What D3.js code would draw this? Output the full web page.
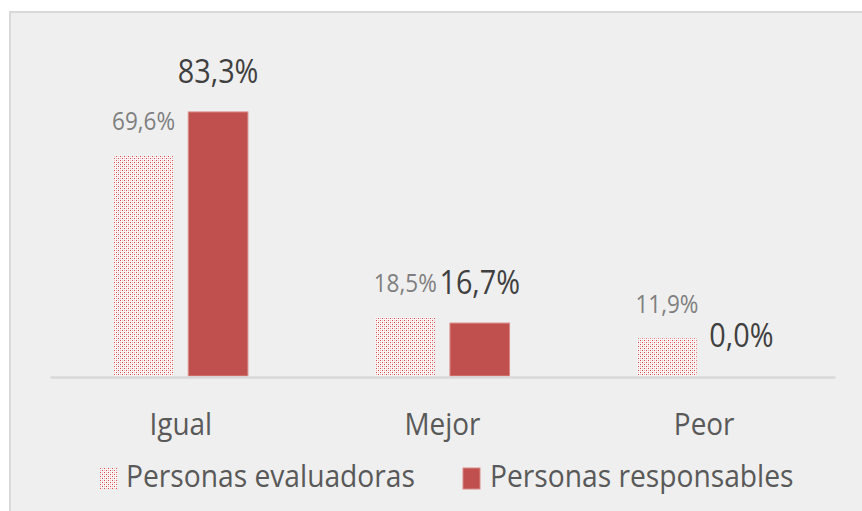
<!DOCTYPE html>
<html><head><meta charset="utf-8">
<script src="https://cdn.jsdelivr.net/npm/d3@7"></script>
<style>
html,body{margin:0;padding:0;background:#fff;}
svg{display:block;}
text{font-family:"Open Sans",sans-serif;}
</style></head>
<body>
<svg id="chart" width="862" height="511"></svg>
<script>
const categories = ["Igual", "Mejor", "Peor"];
const seriesNames = ["Personas evaluadoras", "Personas responsables"];
const evaluadoras = [69.6, 18.5, 11.9];
const responsables = [83.3, 16.7, 0.0];
const valueLabels = {
  "Personas evaluadoras": ["69,6%", "18,5%", "11,9%"],
  "Personas responsables": ["83,3%", "16,7%", "0,0%"]
};

const svg = d3.select("#chart");
const W = 862, H = 511;
const SX = 0.9;

const defs = svg.append("defs");
const pat = defs.append("pattern").attr("id","dots").attr("patternUnits","userSpaceOnUse")
  .attr("width",4).attr("height",4);
pat.append("rect").attr("width",4).attr("height",4).attr("fill","#fdf6f6");
pat.append("rect").attr("x",0).attr("y",0).attr("width",1).attr("height",1).attr("fill","#d9494a");
pat.append("rect").attr("x",2).attr("y",2).attr("width",1).attr("height",1).attr("fill","#d9494a");
pat.append("rect").attr("x",0).attr("y",2).attr("width",1).attr("height",1).attr("fill","#eeb0b0");
pat.append("rect").attr("x",2).attr("y",0).attr("width",1).attr("height",1).attr("fill","#f2c4c4");

// chart area background and border
svg.append("rect").attr("x",10).attr("y",12).attr("width",W).attr("height",H)
  .attr("fill","#efefef").attr("stroke","#d9d9d9").attr("stroke-width",2);

const baseY = 376;
const x = d3.scaleBand().domain(categories).range([50, 835]).paddingInner(0).paddingOuter(0);
const xi = d3.scaleBand().domain(seriesNames).range([0, x.bandwidth()]).paddingInner(0.2).paddingOuter(0.856);
const y = d3.scaleLinear().domain([0, 100]).range([baseY, 59]);

const data = seriesNames.map((s,si) => ({
  name: s,
  values: (si === 0 ? evaluadoras : responsables).map((v,i) => ({cat: categories[i], v, label: valueLabels[s][i]}))
}));

const styles = {
  "Personas evaluadoras": {fill:"url(#dots)", stroke:"none", lblColor:"#7f7f7f", lblSize:25, lblOff:25},
  "Personas responsables": {fill:"#c0504d", stroke:"#d98a88", lblColor:"#404040", lblSize:32, lblOff:29}
};

data.forEach(s => {
  const st = styles[s.name];
  const g = svg.append("g");
  g.selectAll("rect").data(s.values.filter(d => d.v > 0)).join("rect")
    .attr("x", d => x(d.cat) + xi(s.name))
    .attr("y", d => y(d.v))
    .attr("width", xi.bandwidth())
    .attr("height", d => baseY - y(d.v))
    .attr("fill", st.fill)
    .attr("stroke", st.stroke).attr("stroke-width", 1);
  g.selectAll("text").data(s.values).join("text")
    .attr("transform", d => `translate(${x(d.cat) + xi(s.name) + xi.bandwidth()/2},${y(d.v) - st.lblOff}) scale(${SX},1)`)
    .attr("text-anchor","middle")
    .attr("font-size", st.lblSize)
    .attr("fill", st.lblColor)
    .text(d => d.label);
});

// axis
const axis = svg.append("g").attr("transform",`translate(0,${baseY + 1})`)
  .call(d3.axisBottom(x).tickSize(0).tickPadding(0));
axis.select(".domain").attr("stroke","#d9d9d9").attr("stroke-width",2.5);
axis.selectAll(".tick text").remove();
axis.selectAll(".tick").append("text")
  .attr("transform",`translate(0,58) scale(${SX},1)`)
  .attr("text-anchor","middle")
  .attr("font-size",31).attr("fill","#595959")
  .text(d => d);

// legend
const legendItems = [
  {name: seriesNames[0], sx: 100, tx: 126},
  {name: seriesNames[1], sx: 463, tx: 490}
];
const lg = svg.append("g");
legendItems.forEach(it => {
  const st = styles[it.name];
  lg.append("rect").attr("x", it.sx).attr("y", 468).attr("width", 17).attr("height", 21)
    .attr("fill", st.fill).attr("stroke", st.stroke === "none" ? "none" : st.stroke);
  lg.append("text").attr("transform", `translate(${it.tx},487) scale(0.91,1)`)
    .attr("font-size", 31).attr("fill","#595959").text(it.name);
});
</script>
</body></html>
